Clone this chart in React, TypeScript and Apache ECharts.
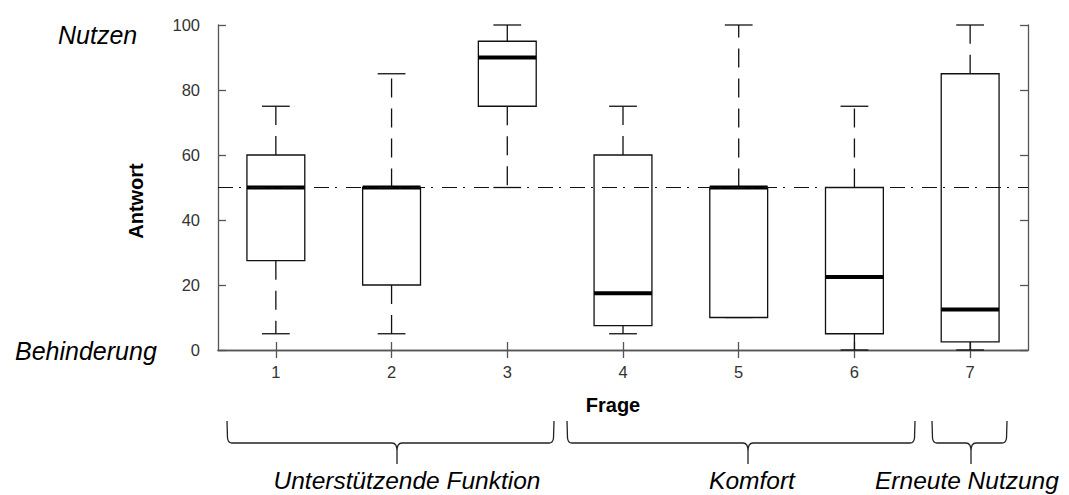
import React, { useEffect, useRef } from 'react';
import * as echarts from 'echarts';

// ---- data ----
const categories = ['1', '2', '3', '4', '5', '6', '7'];
const whiskerLow = [5, 5, 50, 5, 10, 0, 0];
const quartile1 = [27.5, 20, 75, 7.5, 10, 5, 2.5];
const medians = [50, 50, 90, 17.5, 50, 22.5, 12.5];
const quartile3 = [60, 50, 95, 60, 50, 50, 85];
const whiskerHigh = [75, 85, 100, 75, 100, 75, 100];
const referenceValue = 50;
const scaleLabels = ['Nutzen', 'Behinderung'];
const groupLabels = ['Unterstützende Funktion', 'Komfort', 'Erneute Nutzung'];
const xAxisTitle = 'Frage';
const yAxisTitle = 'Antwort';

const FONT = 'Arial, "Liberation Sans", Helvetica, sans-serif';

function bracePath(x1: number, xm: number, x2: number, yTop: number, yLine: number, yTip: number) {
  const r = 5;
  return (
    `M${x1} ${yTop} L${x1 + 0.5} ${yLine - r} Q${x1 + 1} ${yLine} ${x1 + r} ${yLine} ` +
    `L${xm - r} ${yLine} Q${xm} ${yLine} ${xm} ${yLine + 8} L${xm} ${yTip} ` +
    `M${xm} ${yLine + 8} Q${xm} ${yLine} ${xm + r} ${yLine} L${x2 - r} ${yLine} ` +
    `Q${x2 - 1} ${yLine} ${x2 - 0.5} ${yLine - r} L${x2} ${yTop}`
  );
}

const braceLayout = [
  { x1: 227, xm: 397, x2: 554, label: 407, align: 'center' },
  { x1: 567, xm: 748, x2: 915, label: 752, align: 'center' },
  { x1: 932, xm: 971, x2: 1007, label: 875, align: 'left' },
];

export default function App() {
  const ref = useRef<HTMLDivElement>(null);

  useEffect(() => {
    document.body.style.margin = '0';
    if (!ref.current) return;

    braceLayout.forEach((b, i) => {
      echarts.graphic.registerShape(
        'brace' + i,
        echarts.graphic.extendPath(bracePath(b.x1, b.xm, b.x2, 421, 443, 464), {}) as any
      );
    });

    const chart = echarts.init(ref.current, null, { renderer: 'svg' });

    const data = categories.map((_, i) => [
      i,
      whiskerLow[i],
      quartile1[i],
      medians[i],
      quartile3[i],
      whiskerHigh[i],
    ]);

    const axisColor = '#555';

    const textStyle = (text: string, x: number, y: number, extra: any) => ({
      type: 'text',
      x,
      y,
      style: {
        text,
        fill: '#000',
        fontFamily: FONT,
        align: extra.align,
        textAlign: extra.align,
        verticalAlign: 'middle',
        textVerticalAlign: 'middle',
        fontSize: extra.fontSize,
        fontStyle: extra.fontStyle || 'normal',
        fontWeight: extra.fontWeight || 'normal',
      },
      rotation: extra.rotation || 0,
      z: 10,
    });

    const option: any = {
      animation: false,
      backgroundColor: '#fff',
      grid: { left: 218, top: 25, width: 810, height: 325, containLabel: false },
      xAxis: [
        {
          type: 'category',
          data: categories,
          position: 'bottom',
          axisLine: { show: true, lineStyle: { color: axisColor, width: 1.3 } },
          axisTick: { show: true, inside: true, length: 8, alignWithLabel: true, lineStyle: { color: axisColor, width: 1.3 } },
          axisLabel: { show: true, color: '#333', fontSize: 16.5, fontFamily: FONT, margin: 13 },
          splitLine: { show: false },
        },
        {
          type: 'category',
          data: categories,
          position: 'top',
          axisLine: { show: true, lineStyle: { color: axisColor, width: 1.3 } },
          axisTick: { show: true, inside: true, length: 8, alignWithLabel: true, lineStyle: { color: axisColor, width: 1.3 } },
          axisLabel: { show: false },
          splitLine: { show: false },
        },
      ],
      yAxis: [
        {
          type: 'value',
          min: 0,
          max: 100,
          interval: 20,
          position: 'left',
          axisLine: { show: true, lineStyle: { color: axisColor, width: 1.3 } },
          axisTick: { show: true, inside: true, length: 8, lineStyle: { color: axisColor, width: 1.3 } },
          axisLabel: { show: true, color: '#333', fontSize: 16.5, fontFamily: FONT, margin: 18 },
          splitLine: { show: false },
        },
        {
          type: 'value',
          min: 0,
          max: 100,
          interval: 20,
          position: 'right',
          axisLine: { show: true, lineStyle: { color: axisColor, width: 1.3 } },
          axisTick: { show: true, inside: true, length: 8, lineStyle: { color: axisColor, width: 1.3 } },
          axisLabel: { show: false },
          splitLine: { show: false },
        },
      ],
      series: [
        {
          type: 'custom',
          xAxisIndex: 0,
          yAxisIndex: 0,
          data,
          encode: { x: 0, y: [1, 2, 3, 4, 5] },
          clip: false,
          z: 3,
          renderItem: (params: any, api: any) => {
            const i = api.value(0);
            const cx = api.coord([i, 0])[0];
            const band = api.size([1, 0])[0];
            const bw = band * 0.5;
            const cw = band * 0.24;
            const y = (v: number) => api.coord([i, v])[1];
            const yLo = y(api.value(1));
            const yQ1 = y(api.value(2));
            const yMed = y(api.value(3));
            const yQ3 = y(api.value(4));
            const yHi = y(api.value(5));
            const dash = { stroke: '#111', lineWidth: 1.3, lineDash: [19, 11], fill: 'none' };
            const solid = { stroke: '#111', lineWidth: 1.3, fill: 'none' };
            const children: any[] = [];
            if (yQ3 - yHi > 0.5)
              children.push({ type: 'line', shape: { x1: cx, y1: yQ3, x2: cx, y2: yHi }, style: dash });
            if (yLo - yQ1 > 0.5)
              children.push({ type: 'line', shape: { x1: cx, y1: yQ1, x2: cx, y2: yLo }, style: dash });
            children.push({ type: 'line', shape: { x1: cx - cw / 2, y1: yHi, x2: cx + cw / 2, y2: yHi }, style: solid });
            children.push({ type: 'line', shape: { x1: cx - cw / 2, y1: yLo, x2: cx + cw / 2, y2: yLo }, style: solid });
            children.push({
              type: 'rect',
              shape: { x: cx - bw / 2, y: yQ3, width: bw, height: yQ1 - yQ3 },
              style: { fill: '#fff', stroke: '#111', lineWidth: 1.3 },
            });
            children.push({
              type: 'line',
              shape: { x1: cx - bw / 2, y1: yMed, x2: cx + bw / 2, y2: yMed },
              style: { stroke: '#000', lineWidth: 4 },
            });
            return { type: 'group', children };
          },
          markLine: {
            silent: true,
            symbol: ['none', 'none'],
            label: { show: false },
            lineStyle: { type: [15, 6, 2, 9], color: '#111', width: 1.2 },
            data: [{ yAxis: referenceValue }],
            z: 5,
          },
        },
      ],
      graphic: [
        textStyle(scaleLabels[0], 58, 35, { align: 'left', fontSize: 25, fontStyle: 'italic' }),
        textStyle(scaleLabels[1], 15, 351, { align: 'left', fontSize: 25, fontStyle: 'italic' }),
        textStyle(xAxisTitle, 613, 405, { align: 'center', fontSize: 20, fontWeight: 'bold' }),
        textStyle(yAxisTitle, 136, 201, { align: 'center', fontSize: 20, fontWeight: 'bold', rotation: Math.PI / 2 }),
        ...braceLayout.map((b, i) => ({
          type: 'brace' + i,
          x: 0,
          y: 0,
          style: { fill: 'none', stroke: '#222', lineWidth: 1.3 },
          z: 10,
        })),
        ...braceLayout.map((b, i) =>
          textStyle(groupLabels[i], b.label, 480, { align: b.align, fontSize: 24.5, fontStyle: 'italic' })
        ),
      ],
    };

    chart.setOption(option);
    return () => chart.dispose();
  }, []);

  return <div ref={ref} style={{ width: 1069, height: 495 }} />;
}
